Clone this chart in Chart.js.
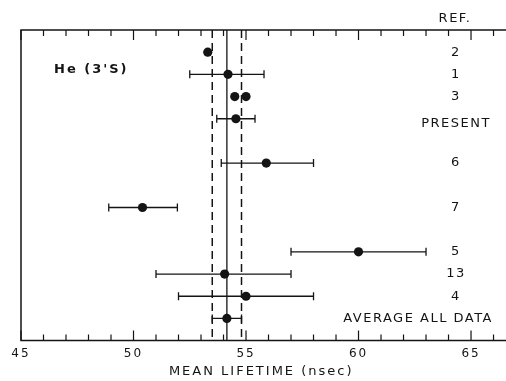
<!DOCTYPE html>
<html>
<head>
<meta charset="utf-8">
<script src="https://cdn.jsdelivr.net/npm/chart.js@4.4.1/dist/chart.umd.min.js"></script>
<style>
  html, body { margin: 0; padding: 0; background: #fff; }
  #wrap { width: 506px; height: 381px; }
</style>
</head>
<body>
<div id="wrap"><canvas id="c"></canvas></div>
<script>
// rows from top to bottom, blanks are the empty slots between references
const rowLabels = ['', '2', '1', '3', 'PRESENT', '', '6', '', '7', '', '5', '13', '4', 'AVERAGE ALL DATA', ''];

// one entry per measured point
const pointRows = ['2', '1', '3', '3', 'PRESENT', '6', '7', '5', '13', '4', 'AVERAGE ALL DATA'];
const lifetimes = [53.3, 54.2, 54.5, 55.0, 54.55, 55.9, 50.4, 60.0, 54.05, 55.0, 54.15];
const errLow   = [null, 52.5, null, null, 53.7, 53.9, 48.9, 57.0, 51.0, 52.0, 53.5];
const errHigh  = [null, 55.8, null, null, 55.4, 58.0, 51.95, 63.0, 57.0, 58.0, 54.8];

// average of all data and its band
const avgLine = 54.15;
const avgBand = [53.5, 54.8];

const xTicks = [45, 50, 55, 60, 65];
const xMin = 45, xMax = 66.35;

const ink = '#141414';
const FONT = '"DejaVu Sans", sans-serif';

const points = lifetimes.map((v, i) => ({ x: v, y: rowLabels.indexOf(pointRows[i]) }));
const yTop = 0, yBottom = rowLabels.length - 1;
const vline = v => [{ x: v, y: yTop }, { x: v, y: yBottom }];

// draws the frame, inward ticks, error bars and the text
const decor = {
  id: 'decor',
  beforeLayout(chart) { chart.ctx.letterSpacing = '2px'; },
  beforeDraw(chart) { chart.ctx.letterSpacing = '2px'; },
  beforeDatasetsDraw(chart) {
    const { ctx, scales: { x, y } } = chart;
    ctx.save();
    ctx.strokeStyle = ink;
    ctx.lineWidth = 1.3;
    // error bars
    lifetimes.forEach((v, i) => {
      if (errLow[i] == null) return;
      const py = y.getPixelForValue(points[i].y);
      const x0 = x.getPixelForValue(errLow[i]);
      const x1 = x.getPixelForValue(errHigh[i]);
      ctx.beginPath();
      ctx.moveTo(x0, py); ctx.lineTo(x1, py);
      ctx.moveTo(x0, py - 4); ctx.lineTo(x0, py + 4);
      ctx.moveTo(x1, py - 4); ctx.lineTo(x1, py + 4);
      ctx.stroke();
    });
    ctx.restore();
  },
  afterDatasetsDraw(chart) {
    const { ctx, chartArea: a, scales: { x, y } } = chart;
    const edge = chart.width;
    ctx.save();
    ctx.strokeStyle = ink;
    ctx.lineWidth = 1.5;
    // frame: left, top, bottom (runs off the right edge)
    ctx.beginPath();
    ctx.moveTo(edge, a.top); ctx.lineTo(a.left, a.top);
    ctx.lineTo(a.left, a.bottom); ctx.lineTo(edge, a.bottom);
    ctx.stroke();
    // minor / major ticks pointing inward
    ctx.lineWidth = 1.2;
    ctx.beginPath();
    for (let v = Math.ceil(xMin); v <= xMax; v++) {
      const px = x.getPixelForValue(v);
      const len = v % 5 === 0 ? 10 : 6;
      ctx.moveTo(px, a.top); ctx.lineTo(px, a.top + len);
      ctx.moveTo(px, a.bottom); ctx.lineTo(px, a.bottom - len);
    }
    ctx.stroke();

    ctx.fillStyle = ink;
    ctx.textBaseline = 'middle';
    ctx.font = '13px ' + FONT;
    ctx.letterSpacing = '1.5px';
    // reference labels on the right
    rowLabels.forEach((lab, i) => {
      if (!lab) return;
      const w = ctx.measureText(lab).width;
      const cx = Math.min(456, 493 - w / 2);
      ctx.textAlign = 'center';
      ctx.fillText(lab, cx, y.getPixelForValue(i) + (lab === 'PRESENT' ? 5 : 0));
    });
    ctx.textAlign = 'center';
    ctx.fillText('REF.', 455, 19);
    ctx.font = 'bold 13px ' + FONT;
    ctx.letterSpacing = '2px';
    ctx.textAlign = 'left';
    ctx.fillText("He (3'S)", 54, 70);
    ctx.restore();
  }
};

new Chart(document.getElementById('c'), {
  type: 'scatter',
  data: {
    datasets: [
      {
        data: points,
        pointRadius: 4.6,
        pointHoverRadius: 4.6,
        backgroundColor: ink,
        borderWidth: 0
      },
      {
        data: vline(avgLine),
        showLine: true,
        pointRadius: 0,
        borderColor: ink,
        borderWidth: 1.3
      },
      {
        data: vline(avgBand[0]),
        showLine: true,
        pointRadius: 0,
        borderColor: ink,
        borderWidth: 1.5,
        borderDash: [8, 5]
      },
      {
        data: vline(avgBand[1]),
        showLine: true,
        pointRadius: 0,
        borderColor: ink,
        borderWidth: 1.5,
        borderDash: [8, 5]
      }
    ]
  },
  options: {
    responsive: true,
    maintainAspectRatio: false,
    animation: false,
    layout: { padding: { top: 30, left: 21, right: 0, bottom: 2 } },
    plugins: { legend: { display: false }, tooltip: { enabled: false } },
    scales: {
      x: {
        type: 'linear',
        min: xMin,
        max: xMax,
        grid: { display: false, drawTicks: false },
        border: { display: false },
        afterBuildTicks: s => { s.ticks = xTicks.map(v => ({ value: v })); },
        ticks: { color: ink, padding: 6, font: { family: FONT, size: 12 } },
        title: {
          display: true,
          text: 'MEAN LIFETIME (nsec)',
          color: ink,
          padding: { top: -2, bottom: 1 },
          font: { family: FONT, size: 13, lineHeight: 1.0 }
        }
      },
      y: {
        type: 'linear',
        min: yTop,
        max: yBottom,
        reverse: true,
        display: false
      }
    }
  },
  plugins: [decor]
});
</script>
</body>
</html>
